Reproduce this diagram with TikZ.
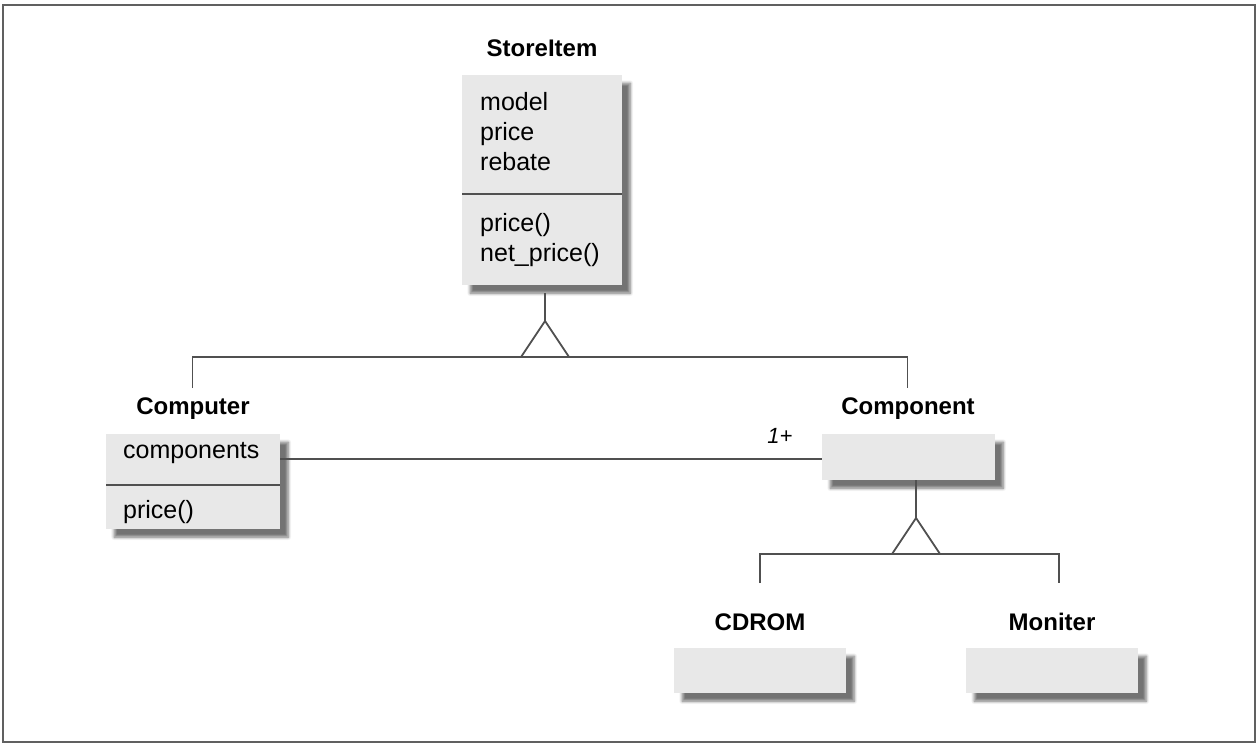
\documentclass[tikz,border=0pt]{standalone}
\usepackage{fontspec}
\setmainfont{Liberation Sans}
\usetikzlibrary{shadows.blur}
\definecolor{boxgray}{HTML}{E8E8E8}
\definecolor{linegray}{HTML}{505050}
\definecolor{framegray}{HTML}{606060}
\tikzset{
  classbox/.style={fill=boxgray, inner sep=0pt, anchor=north west,
    blur shadow={shadow xshift=8pt, shadow yshift=-8pt, shadow blur radius=3pt,
      shadow blur steps=6, shadow opacity=55}},
  classname/.style={font=\bfseries\fontsize{24}{28}\selectfont, inner sep=0pt},
  member/.style={font=\fontsize{25}{30}\selectfont, inner sep=0pt, anchor=base west},
  divider/.style={draw=linegray, line width=1.8pt},
  link/.style={draw=linegray, line width=1.8pt},
  multiplicity/.style={font=\itshape\fontsize{22}{26}\selectfont, inner sep=0pt},
}
\begin{document}
\begin{tikzpicture}[x=1pt, y=-1pt]
  \useasboundingbox (0,0) rectangle (1257,745);
  \draw[framegray, line width=2pt] (2.5,5) rectangle (1255,742);

  % StoreItem
  \node[classname] (siT) at (542,48) {StoreItem};
  \node[classbox, minimum width=160pt, minimum height=210pt] (si) at (462,75) {};
  \draw[divider] (si.west |- 0,194) -- (si.east |- 0,194);
  \node[member] (siA1) at (480,110) {model};
  \node[member] (siA2) at (480,140) {price};
  \node[member] (siA3) at (480,170) {rebate};
  \node[member] (siM1) at (480,231) {price()};
  \node[member] (siM2) at (480,261) {net\_price()};

  % Computer
  \node[classname] (coT) at (193,409) {Computer};
  \node[classbox, minimum width=174pt, minimum height=95pt] (co) at (106,434) {};
  \draw[divider] (co.west |- 0,485) -- (co.east |- 0,485);
  \node[member] (coA1) at (123,458) {components};
  \node[member] (coM1) at (123,518) {price()};

  % Component
  \node[classname] (cpT) at (908,409) {Component};
  \node[classbox, minimum width=173pt, minimum height=46pt] (cp) at (822,434) {};

  % CDROM and Moniter
  \node[classname] (cdT) at (760,622) {CDROM};
  \node[classbox, minimum width=172pt, minimum height=45pt] (cd) at (674,648) {};
  \node[classname] (moT) at (1052,622) {Moniter};
  \node[classbox, minimum width=172pt, minimum height=45pt] (mo) at (966,648) {};

  % generalization StoreItem -> Computer, Component
  \coordinate (g1top) at (545,293);
  \coordinate (g1tip) at (545,321);
  \coordinate (g1l) at (521,357);
  \coordinate (g1r) at (569,357);
  \coordinate (g1a) at (192.5,357);
  \coordinate (g1b) at (907.5,357);
  \coordinate (g1aEnd) at (192.5,388);
  \coordinate (g1bEnd) at (907.5,388);
  \draw[link] (g1top) -- (g1tip);
  \draw[link, line join=miter] (g1l) -- (g1tip) -- (g1r);
  \draw[link, line join=miter] (g1aEnd) -- (g1a) -- (g1b) -- (g1bEnd);

  % association Computer -- Component
  \draw[link] (co.east |- 0,459) -- (cp.west |- 0,459);
  \node[multiplicity] (mult) at (780,436) {1+};

  % generalization Component -> CDROM, Moniter
  \coordinate (g2top) at (916,480);
  \coordinate (g2tip) at (916,518);
  \coordinate (g2l) at (892,554);
  \coordinate (g2r) at (940,554);
  \coordinate (g2a) at (760,554);
  \coordinate (g2b) at (1059,554);
  \coordinate (g2aEnd) at (760,583);
  \coordinate (g2bEnd) at (1059,583);
  \draw[link] (g2top) -- (g2tip);
  \draw[link, line join=miter] (g2l) -- (g2tip) -- (g2r);
  \draw[link, line join=miter] (g2aEnd) -- (g2a) -- (g2b) -- (g2bEnd);
\end{tikzpicture}
\end{document}
